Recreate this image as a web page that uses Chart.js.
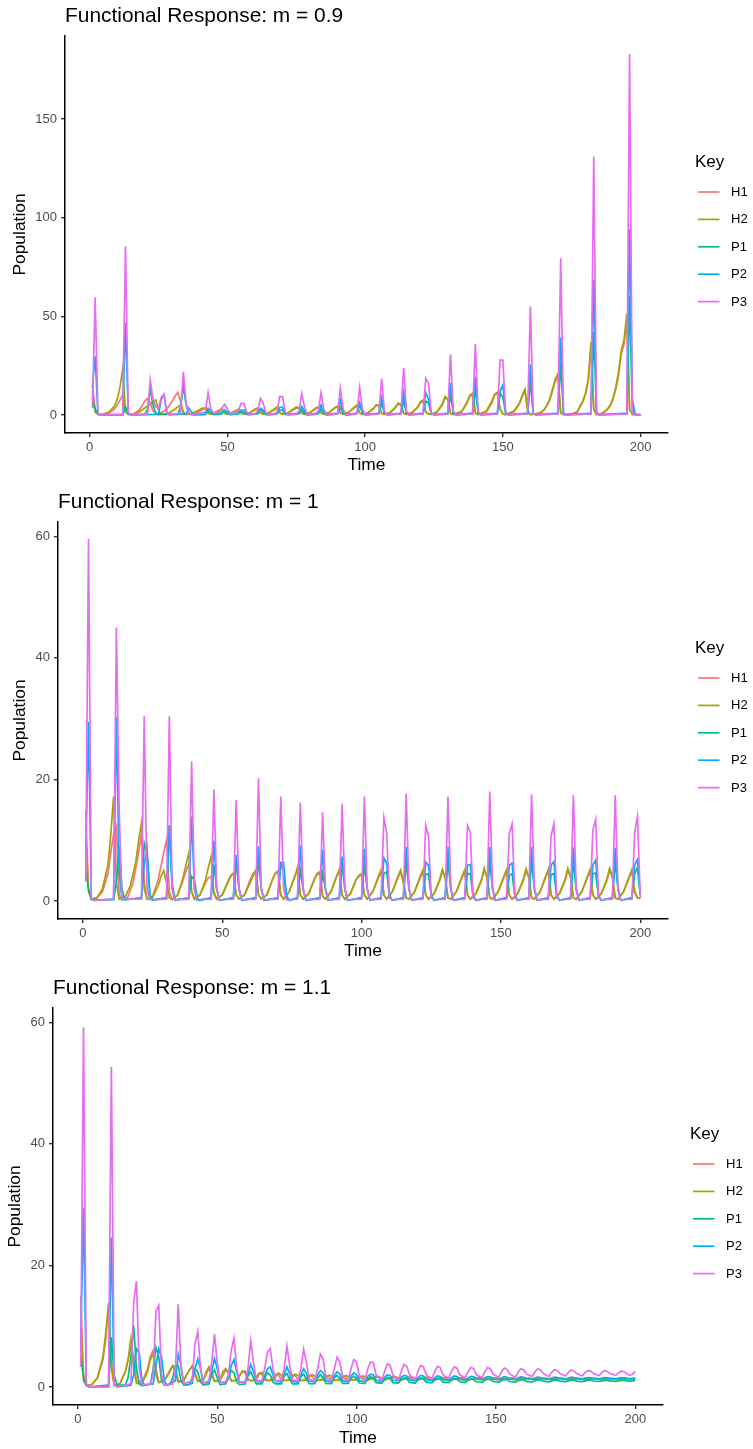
<!DOCTYPE html>
<html>
<head>
<meta charset="utf-8">
<script src="https://cdn.jsdelivr.net/npm/chart.js@4.4.1/dist/chart.umd.min.js"></script>
<style>
  body { margin: 0; background: #fff; }
  canvas { position: absolute; left: 0; }
</style>
</head>
<body>
<canvas id="m09" width="753" height="483" style="top:0px"></canvas>
<canvas id="m10" width="753" height="483" style="top:483px"></canvas>
<canvas id="m11" width="753" height="483" style="top:966px"></canvas>
<script>
const series = ['H1', 'H2', 'P1', 'P2', 'P3'];
const colours = ['#F8766D', '#A3A500', '#00BF7D', '#00B0F6', '#E76BF3'];

const timeTicks = [0, 50, 100, 150, 200];
const popTicks09 = [0, 50, 100, 150];
const popTicks = [0, 20, 40, 60];

// [time, population] pairs, m = 0.9
const h1_09 = [[1,15],[2,3],[3,0.3],[5,0.3],[7,1],[9,3],[10,5],[11,7.5],[12,10],[13,1.5],[14,0.3],[16,0.5],[18,2.5],[19,4.5],[20,7],[21,8.4],[22,6],[23,2],[24,0.8],[26,1],[28,3],[30,7],[31,9.5],[32,11.4],[33,7],[34,1.5],[35,0.3],[38,0.5],[40,2],[42,3.5],[43,2],[44,0.5],[46,1.5],[48,3],[49,1.5],[50,0.5],[52,1.5],[54,2.5],[55,1.5],[56,0.5],[58,1],[60,2.5],[61,3],[62,1.5],[63,0.4],[65,1],[67,2.5],[68,3.5],[69,1.5],[70,0.4],[72,1],[74,2.5],[75,3.5],[76,3.5],[77,1],[78,0.3],[80,1.2],[82,3],[83,3.8],[84,1],[85,0.3],[87,1.2],[89,3.5],[90,4.2],[91,1],[92,0.3],[94,1.2],[96,3.5],[97,4.5],[98,1],[99,0.3],[101,1],[103,3],[104,5],[105,4.5],[106,0.8],[107,0.3],[109,1],[111,3.5],[112,5.5],[113,5],[114,0.8],[115,0.3],[117,1],[119,3.5],[120,6],[121,7],[122,1.5],[123,0.5],[124,0.3],[126,1.2],[128,5],[129,8.5],[130,8],[131,0.8],[132,0.2],[135,1.5],[137,6],[138,9.5],[139,10],[140,1],[141,0.2],[144,1.5],[146,6],[147,10],[148,11],[149,3],[150,0.5],[151,0.2],[154,1.5],[156,5.5],[157,9],[158,12.5],[159,2],[160,0.2],[162,0.5],[164,1.4],[165,2.6],[166,4.6],[167,7.5],[168,12],[169,17],[170,19],[171,1],[172,0.2],[175,0.5],[177,1.5],[178,4],[179,6.5],[180,10.5],[181,17],[182,34],[183,3],[184,0.2],[186,0.7],[188,2.8],[189,4.6],[190,8],[191,13],[192,20],[193,31],[194,36],[195,48],[196,3],[197,0.3],[200,0.1]];
const h2_09 = [[1,10],[2,1.5],[3,0.3],[5,0.4],[7,1.5],[9,4.5],[10,8],[11,14],[12,23.6],[13,2],[14,0.3],[16,0.4],[18,1.5],[20,3.5],[22,5.5],[23,7],[24,7.6],[25,2.5],[26,0.5],[28,0.5],[30,2],[32,4],[33,5],[34,1],[35,0.3],[37,0.6],[39,2],[41,3.5],[42,3.5],[43,0.8],[44,0.3],[46,1.5],[47,2.5],[48,3],[49,0.8],[50,0.3],[52,1.2],[54,3],[55,1],[56,0.3],[58,1],[60,3],[61,3.5],[62,1],[63,0.3],[65,1],[67,3],[68,4],[69,1],[70,0.3],[72,1],[74,3],[75,4],[76,3.5],[77,0.8],[78,0.3],[80,1.2],[82,3.5],[83,4],[84,1],[85,0.3],[87,1.3],[89,3.8],[90,4.5],[91,1],[92,0.3],[94,1.3],[96,4],[97,5],[98,1],[99,0.3],[101,1],[103,3.5],[104,5],[105,5],[106,0.8],[107,0.3],[109,1.2],[111,4],[112,6],[113,5.5],[114,0.8],[115,0.3],[117,1.2],[119,4],[120,6.5],[121,7.6],[122,1.5],[123,0.4],[124,0.3],[126,1.5],[128,5.5],[129,9.3],[130,8],[131,0.8],[132,0.2],[135,1.8],[137,6.5],[138,10],[139,11],[140,1],[141,0.2],[144,2],[146,7],[147,10.5],[148,11.5],[149,3],[150,0.5],[151,0.2],[154,2],[156,6],[157,10],[158,13],[159,2],[160,0.2],[162,0.5],[164,1.5],[165,2.8],[166,5],[167,8],[168,13],[169,18],[170,21],[171,1],[172,0.2],[175,0.5],[177,1.6],[178,4.5],[179,7],[180,11],[181,18],[182,37],[183,3],[184,0.2],[186,0.8],[188,3],[189,5],[190,8.5],[191,14],[192,22],[193,33],[194,38],[195,51.4],[196,3],[197,0.3],[200,0.1]];
const p1_09 = [[1,8],[2,3],[3,0.3],[4,0],[12,0],[13,4.2],[14,0.5],[15,0],[20,0.3],[21,3],[22,13.5],[23,5],[24,1],[25,0.2],[32,0.5],[33,4],[34,14.8],[35,5],[36,1],[37,0.2],[42,0.3],[43,2],[44,1],[45,0.2],[48,0.5],[49,2],[50,1],[51,0.2],[54,0.5],[55,1.5],[56,1.5],[57,0.3],[61,0.5],[62,3],[63,1.5],[64,0.2],[68,0.5],[69,2.5],[70,2.5],[71,0.3],[76,0.5],[77,2.5],[78,1],[79,0.2],[83,0.5],[84,3],[85,1],[86,0.2],[90,0.5],[91,4],[92,1],[93,0.2],[97,0.5],[98,5],[99,1],[100,0.2],[105,0.5],[106,6],[107,1],[108,0.2],[113,0.5],[114,7],[115,1],[116,0.2],[121,0.5],[122,7],[123,6],[124,0.5],[125,0.2],[130,0.5],[131,10],[132,1],[133,0.2],[139,0.5],[140,13.5],[141,1],[142,0.2],[148,0.5],[149,11],[150,9],[151,1],[152,0.2],[159,0.5],[160,17],[161,1],[162,0.2],[170,0.5],[171,26],[172,1],[173,0.2],[182,0.5],[183,42],[184,1],[185,0.2],[195,0.5],[196,60],[197,3],[198,0.2],[200,0]];
const p2_09 = [[1,14],[2,29.8],[3,0.5],[4,0],[12,0.3],[13,46.6],[14,1],[15,0],[25,0.3],[26,8],[27,10.4],[28,1],[29,0],[35,0.5],[36,3.5],[37,1.5],[38,0],[42,0.3],[43,3.4],[44,2],[45,0.5],[48,1.5],[49,2.5],[50,1.5],[51,0.3],[54,1],[55,2.5],[56,2.5],[57,0.5],[58,0],[61,1],[62,3.4],[63,2.5],[64,0.5],[65,0],[68,1],[69,3.9],[70,3.9],[71,1],[72,0],[76,1],[77,4.2],[78,2],[79,0],[83,1],[84,5],[85,2],[86,0],[90,1],[91,7.6],[92,2],[93,0],[97,1],[98,6.2],[99,2],[100,0],[105,1],[106,8.9],[107,1],[108,0],[113,1],[114,11.3],[115,1],[116,0],[121,1],[122,11.3],[123,8],[124,1],[125,0],[130,1],[131,16.3],[132,1.5],[133,0],[139,1],[140,19.4],[141,1.5],[142,0],[148,1],[149,12],[150,15.2],[151,1.5],[152,0],[159,1],[160,25.6],[161,1],[162,0],[170,1],[171,39.2],[172,1],[173,0],[182,1],[183,68.5],[184,1],[185,0],[195,1],[196,94.3],[197,8],[198,0.5],[200,0]];
const p3_09 = [[1,3.5],[2,59.7],[3,0.5],[4,0],[12,0.3],[13,85.5],[14,1],[15,0],[21,0.5],[22,17.7],[23,8],[24,4],[25,3.5],[26,9],[27,10.5],[28,1],[29,0],[33,1],[34,21.9],[35,6],[36,1],[37,0],[42,1.5],[43,11.4],[44,3],[45,1],[47,1.5],[48,3.5],[49,5.4],[50,3],[51,0.8],[53,0.8],[54,2],[55,5.9],[56,5.9],[57,1.5],[58,0.3],[60,0.5],[61,2],[62,8.4],[63,6],[64,1],[65,0],[67,0.3],[68,1.5],[69,9.3],[70,9.3],[71,1.5],[72,0],[75,0.3],[76,2],[77,10.9],[78,4],[79,0.5],[80,0],[82,0.3],[83,2],[84,11.3],[85,3],[86,0.3],[87,0],[90,0.5],[91,13.5],[92,3],[93,0.3],[94,0],[97,0.5],[98,13.8],[99,3],[100,0.3],[101,0],[105,0.5],[106,18.5],[107,2],[108,0],[113,0.5],[114,23.9],[115,2],[116,0],[121,0.5],[122,18.5],[123,16],[124,1],[125,0],[130,0.5],[131,30.6],[132,2],[133,0],[139,0.5],[140,35.9],[141,2],[142,0],[148,0.5],[149,27.8],[150,27.8],[151,1.5],[152,0],[159,0.5],[160,55],[161,1],[162,0],[170,0.5],[171,79.5],[172,1],[173,0],[182,0.5],[183,131],[184,1],[185,0],[195,0.5],[196,183],[197,1.5],[198,0],[200,0]];

// m = 1
const h1_10 = [[1,14.8],[2,2],[3,0.3],[5,0.5],[7,1.5],[9,4.5],[10,8],[11,11],[12,12.3],[13,1],[14,0.3],[16,0.5],[18,3],[20,8],[21,11],[22,3],[23,0.3],[25,0.8],[27,3.5],[29,8],[30,10],[31,1.5],[32,0.3],[34,1],[36,3.5],[37,5],[38,6],[39,1.5],[40,0.3],[42,1],[44,3],[45,3.8],[46,4],[47,1.2],[48,0.3],[50,1],[52,3.2],[53,4.2],[54,4.5],[55,1],[56,0.3],[58,1],[60,3.5],[61,4.5],[62,5],[63,1],[64,0.3],[66,1],[68,3.5],[69,4.5],[70,4.8],[71,1],[72,0.3],[74,1.5],[76,4],[77,5],[78,1],[79,0.3],[81,1.2],[83,3.5],[84,4.3],[85,4.5],[86,0.8],[87,0.3],[89,1.5],[91,4],[92,4.8],[93,1],[94,0.3],[96,1.2],[98,3.5],[99,4],[100,4.3],[101,1],[102,0.3],[104,1.5],[106,3.8],[107,4.8],[108,1],[109,0.3],[111,1.5],[113,3.8],[114,4.8],[115,3],[116,0.5],[117,0.3],[119,1.5],[121,3.8],[122,4.8],[123,1],[124,0.3],[126,1.2],[128,3.3],[129,4.9],[130,3.8],[131,0.5],[132,0.3],[134,1.5],[136,3.8],[137,4.8],[138,1],[139,0.3],[141,1.2],[143,3.3],[144,5.1],[145,3.8],[146,0.5],[147,0.3],[149,1.5],[151,3.8],[152,4.8],[153,1],[154,0.3],[156,1.2],[158,3.3],[159,5],[160,3.8],[161,0.5],[162,0.3],[164,1.5],[166,3.8],[167,4.9],[168,1],[169,0.3],[171,1.2],[173,3.3],[174,5.1],[175,3.8],[176,0.5],[177,0.3],[179,1.5],[181,3.8],[182,4.9],[183,1],[184,0.3],[186,1.2],[188,3.3],[189,5.1],[190,3.8],[191,0.5],[192,0.3],[194,1.5],[196,3.8],[197,4.9],[198,1.5],[199,0.5],[200,0.4]];
const h2_10 = [[1,10],[2,1.5],[3,0.3],[5,0.5],[7,2],[9,6],[10,11],[11,17.2],[12,3],[13,0.3],[15,0.5],[17,2.5],[19,6.5],[20,10],[21,12.8],[22,2],[23,0.3],[25,0.6],[27,2.5],[28,4],[29,5],[30,3],[31,0.5],[32,0.2],[34,1],[36,4],[37,6],[38,7.9],[39,1.5],[40,0.3],[42,1],[44,3.5],[45,5.5],[46,7.3],[47,1.5],[48,0.3],[50,1],[52,3],[53,4],[54,4.6],[55,1],[56,0.3],[58,1],[60,3],[61,4],[62,5],[63,1],[64,0.3],[66,1],[68,3.5],[69,4.5],[70,5],[71,1],[72,0.3],[74,1.5],[76,4],[77,5.5],[78,1],[79,0.3],[81,1.2],[83,3.5],[84,4.5],[85,4.8],[86,0.8],[87,0.3],[89,1.5],[91,4],[92,5.2],[93,1],[94,0.3],[96,1.2],[98,3.5],[99,4.2],[100,4.5],[101,1],[102,0.3],[104,1.5],[106,4],[107,5.1],[108,1],[109,0.3],[111,1.5],[113,4],[114,5.1],[115,3],[116,0.5],[117,0.3],[119,1.5],[121,4],[122,5.1],[123,1],[124,0.3],[126,1.2],[128,3.5],[129,5.2],[130,4],[131,0.5],[132,0.3],[134,1.5],[136,4],[137,5.1],[138,1],[139,0.3],[141,1.2],[143,3.5],[144,5.4],[145,4],[146,0.5],[147,0.3],[149,1.5],[151,4],[152,5.1],[153,1],[154,0.3],[156,1.2],[158,3.5],[159,5.3],[160,4],[161,0.5],[162,0.3],[164,1.5],[166,4],[167,5.2],[168,1],[169,0.3],[171,1.2],[173,3.5],[174,5.4],[175,4],[176,0.5],[177,0.3],[179,1.5],[181,4],[182,5.2],[183,1],[184,0.3],[186,1.2],[188,3.5],[189,5.4],[190,4],[191,0.5],[192,0.3],[194,1.5],[196,4],[197,5.2],[198,1.5],[199,0.5],[200,0.4]];
const p1_10 = [[1,5],[2,2],[3,0.2],[11,0.2],[12,3],[13,9],[14,2],[15,0.2],[21,0.5],[22,9.5],[23,8],[24,1],[25,0.2],[30,0.5],[31,12.3],[32,3],[33,0.2],[38,0.5],[39,4],[40,3.5],[41,0.5],[42,0.1],[46,0.5],[47,6],[48,2],[49,0.1],[54,0.5],[55,6.5],[56,2],[57,0.1],[62,0.5],[63,7],[64,2],[65,0.1],[70,0.5],[71,6],[72,5],[73,0.5],[74,0.1],[77,0.5],[78,5],[79,2],[80,0.1],[85,0.5],[86,4.5],[87,2],[88,0.1],[92,0.5],[93,6],[94,2],[95,0.1],[100,0.5],[101,6],[102,2],[103,0.1],[107,0.5],[108,4.5],[109,4.8],[110,0.8],[111,0.1],[115,0.5],[116,6.5],[117,2],[118,0.1],[122,0.5],[123,4.4],[124,4.4],[125,0.8],[126,0.1],[130,0.5],[131,6.5],[132,2],[133,0.1],[137,0.5],[138,4.5],[139,4.5],[140,0.8],[141,0.1],[145,0.5],[146,6.5],[147,2],[148,0.1],[152,0.5],[153,4.2],[154,4.5],[155,0.8],[156,0.1],[160,0.5],[161,6.5],[162,2],[163,0.1],[167,0.5],[168,4.3],[169,4.5],[170,0.8],[171,0.1],[175,0.5],[176,6.5],[177,2],[178,0.1],[182,0.5],[183,4.5],[184,4.6],[185,0.8],[186,0.1],[190,0.5],[191,6.5],[192,2],[193,0.1],[197,0.5],[198,4.5],[199,5.5],[200,1]];
const p2_10 = [[1,7],[2,29.5],[3,0.5],[4,0.1],[11,0.3],[12,30.3],[13,5],[14,0.2],[21,0.5],[22,6],[23,8.7],[24,1],[25,0.1],[30,0.5],[31,12.5],[32,2],[33,0.1],[38,0.5],[39,13.9],[40,2],[41,0.1],[46,0.5],[47,9.9],[48,2],[49,0.1],[54,0.5],[55,7.6],[56,2],[57,0.1],[62,0.5],[63,9],[64,2],[65,0.1],[70,0.5],[71,6.3],[72,6.3],[73,1],[74,0.1],[77,0.5],[78,9.1],[79,2],[80,0.1],[85,0.5],[86,8.4],[87,2],[88,0.1],[92,0.5],[93,7.3],[94,2],[95,0.1],[100,0.5],[101,8.6],[102,2],[103,0.1],[107,0.5],[108,7.1],[109,6.2],[110,1],[111,0.1],[115,0.5],[116,8.9],[117,2],[118,0.1],[122,0.5],[123,6.4],[124,5.9],[125,1],[126,0.1],[130,0.5],[131,8.9],[132,2],[133,0.1],[137,0.5],[138,5.9],[139,6],[140,1],[141,0.1],[145,0.5],[146,8.9],[147,2],[148,0.1],[152,0.5],[153,5.9],[154,6.2],[155,1],[156,0.1],[160,0.5],[161,8.9],[162,2],[163,0.1],[167,0.5],[168,5.9],[169,6.5],[170,1],[171,0.1],[175,0.5],[176,8.8],[177,2],[178,0.1],[182,0.5],[183,5.9],[184,6.7],[185,1],[186,0.1],[190,0.5],[191,8.7],[192,2],[193,0.1],[197,0.5],[198,5.9],[199,6.8],[200,1.1]];
const p3_10 = [[1,3.2],[2,59.6],[3,0.5],[4,0.1],[11,0.3],[12,45],[13,15],[14,0.3],[21,0.3],[22,30.4],[23,2],[24,0.2],[30,0.3],[31,30.4],[32,2],[33,0.2],[38,0.3],[39,23],[40,2],[41,0.2],[46,0.3],[47,18.4],[48,2],[49,0.2],[54,0.3],[55,16.6],[56,2],[57,0.2],[62,0.3],[63,20.2],[64,2],[65,0.2],[70,0.3],[71,17.2],[72,2],[73,0.2],[77,0.3],[78,16.2],[79,2],[80,0.2],[85,0.3],[86,14.6],[87,2],[88,0.2],[92,0.3],[93,16],[94,2],[95,0.2],[100,0.3],[101,17.2],[102,2],[103,0.2],[107,0.3],[108,13.7],[109,11.2],[110,0.5],[111,0.2],[115,0.3],[116,17.7],[117,2],[118,0.2],[122,0.3],[123,12.4],[124,10.7],[125,0.5],[126,0.2],[130,0.3],[131,17.2],[132,2],[133,0.2],[137,0.3],[138,12.4],[139,11.3],[140,0.5],[141,0.2],[145,0.3],[146,18],[147,2],[148,0.2],[152,0.3],[153,11.1],[154,12.7],[155,0.5],[156,0.2],[160,0.3],[161,17.5],[162,2],[163,0.2],[167,0.3],[168,10.7],[169,12.7],[170,0.5],[171,0.2],[175,0.3],[176,17.4],[177,2],[178,0.2],[182,0.3],[183,11.7],[184,13.4],[185,0.5],[186,0.2],[190,0.3],[191,17.4],[192,2],[193,0.2],[197,0.3],[198,11.4],[199,13.9],[200,0.5]];

// m = 1.1
const h1_11 = [[1,15],[2,2],[3,0.3],[5,0.4],[7,1.5],[9,4.5],[10,8],[11,13],[12,4],[13,0.3],[15,0.5],[17,2.5],[18,4.5],[19,7],[20,5],[21,1],[23,0.8],[25,3],[26,5],[27,6],[28,3],[29,0.8],[31,1],[33,2.8],[34,3.5],[35,3],[36,1],[38,1.1],[40,2.8],[41,3.3],[42,2.5],[43,1],[45,1.2],[47,3],[48,2.5],[49,1],[51,1.1],[53,2.7],[54,2.4],[55,1],[57,1.1],[59,2.5],[60,2.3],[61,1.1],[63,1.1],[65,2.3],[66,2.1],[67,1.1],[69,1.1],[71,2.1],[72,2],[73,1.1],[75,1.1],[77,2],[78,1.9],[79,1.1],[81,1.1],[83,1.95],[84,1.8],[85,1.1],[87,1.12],[89,1.9],[90,1.75],[91,1.1],[93,1.13],[95,1.85],[96,1.7],[97,1.12],[99,1.14],[101,1.8],[102,1.65],[103,1.13],[107,1.72],[109,1.14],[113,1.68],[115,1.15],[119,1.64],[121,1.16],[125,1.6],[127,1.17],[131,1.56],[133,1.18],[137,1.53],[139,1.19],[143,1.5],[145,1.2],[149,1.48],[151,1.21],[155,1.46],[157,1.22],[161,1.44],[163,1.23],[167,1.42],[169,1.24],[173,1.41],[175,1.25],[179,1.4],[181,1.25],[185,1.39],[187,1.26],[191,1.38],[193,1.27],[197,1.37],[200,1.3]];
const h2_11 = [[1,10],[2,1],[3,0.3],[5,0.4],[7,1.5],[9,5],[10,9],[11,13.9],[12,3],[13,0.3],[15,0.5],[17,2.5],[18,4.5],[19,7.9],[20,3],[21,0.6],[23,0.6],[25,2.5],[26,4.5],[27,5.5],[28,2],[29,0.7],[31,1],[33,2.5],[34,3.5],[35,2.5],[36,0.8],[38,1.1],[40,2.8],[41,3.5],[42,2],[43,0.9],[45,1.1],[46,2.5],[47,3.3],[48,2],[49,0.9],[51,1.1],[52,2.5],[53,3],[54,2.3],[55,1],[57,1.1],[59,2.6],[60,2.6],[61,1.3],[62,1],[64,1.1],[65,2.1],[66,2.4],[67,1.6],[68,1],[70,1.1],[72,2.3],[73,1.9],[74,1.05],[76,1.1],[78,2.1],[79,1.9],[80,1.05],[82,1.1],[84,2.05],[85,1.8],[86,1.08],[88,1.1],[90,1.95],[91,1.8],[92,1.1],[94,1.12],[96,1.9],[97,1.75],[98,1.12],[100,1.15],[102,1.8],[103,1.7],[104,1.12],[108,1.75],[110,1.13],[114,1.7],[116,1.14],[120,1.65],[122,1.15],[126,1.62],[128,1.16],[132,1.58],[134,1.17],[138,1.55],[140,1.18],[144,1.52],[146,1.19],[150,1.5],[152,1.2],[156,1.48],[158,1.21],[162,1.46],[164,1.22],[168,1.44],[170,1.23],[174,1.43],[176,1.24],[180,1.42],[182,1.25],[186,1.41],[188,1.25],[192,1.4],[194,1.26],[198,1.39],[200,1.32]];
const p1_11 = [[1,5],[2,1.5],[3,0.2],[4,0],[11,0.3],[12,8.2],[13,2],[14,0.3],[17,0.3],[18,1.5],[19,5],[20,10.1],[21,3],[22,0.5],[23,0.2],[26,0.5],[27,3],[28,6.5],[29,5],[30,1],[31,0.3],[33,0.4],[34,1.5],[35,3.5],[36,3.5],[37,1],[38,0.3],[40,0.4],[41,1.5],[42,3],[43,2.5],[44,0.8],[45,0.3],[47,0.5],[48,2],[49,2.8],[50,1.5],[51,0.4],[53,0.5],[54,1.5],[55,2.7],[56,2.3],[57,0.8],[58,0.4],[60,0.5],[61,1.8],[62,2.5],[63,1.5],[64,0.5],[66,0.5],[67,1.5],[68,2.3],[69,2],[70,0.8],[71,0.5],[73,0.5],[74,1.8],[75,2.2],[76,1.3],[77,0.5],[79,0.5],[80,1.7],[81,2.1],[82,1.3],[83,0.55],[85,0.55],[86,1.5],[87,2],[88,1.5],[89,0.6],[91,0.55],[92,1.5],[93,1.9],[94,1.4],[95,0.6],[97,0.6],[98,1.4],[99,1.8],[100,1.4],[101,0.65],[103,0.6],[104,1.3],[105,1.7],[106,1.4],[107,0.7],[109,0.6],[110,1.2],[111,1.6],[112,1.4],[113,0.7],[115,0.62],[116,1.2],[117,1.5],[118,1.35],[119,0.75],[121,0.65],[122,1.2],[123,1.45],[124,1.3],[125,0.8],[127,0.68],[128,1.15],[129,1.4],[130,1.3],[131,0.8],[133,0.7],[134,1.1],[135,1.35],[136,1.25],[137,0.85],[139,0.72],[140,1.1],[141,1.3],[142,1.2],[143,0.85],[145,0.75],[146,1.1],[147,1.3],[148,1.2],[149,0.9],[151,0.78],[152,1.05],[153,1.25],[154,1.2],[155,0.9],[157,0.8],[158,1.05],[159,1.2],[160,1.15],[161,0.92],[163,0.82],[164,1.05],[165,1.2],[166,1.15],[167,0.95],[169,0.85],[170,1],[171,1.15],[172,1.1],[173,0.95],[175,0.87],[176,1],[177,1.15],[178,1.1],[179,0.97],[181,0.88],[182,1],[183,1.12],[184,1.1],[185,0.98],[187,0.9],[188,1],[189,1.1],[190,1.08],[191,1],[193,0.92],[194,1],[195,1.1],[196,1.07],[197,1],[198,0.95],[200,1.05]];
const p2_11 = [[1,7],[2,29.4],[3,0.5],[4,0],[11,0],[12,24.6],[13,0.3],[14,0],[19,0.3],[20,2],[21,6.3],[22,5.5],[23,1],[24,0.3],[27,0.5],[28,3.5],[29,6.3],[30,5],[31,1],[32,0.3],[35,1],[36,5.4],[37,3.5],[38,0.7],[39,0.3],[41,0.6],[42,3],[43,4.6],[44,3],[45,0.7],[47,0.7],[48,2.5],[49,4.7],[50,3],[51,0.8],[53,0.7],[54,1.5],[55,3.5],[56,4.5],[57,2.5],[58,0.8],[60,0.8],[61,2],[62,3.7],[63,2.5],[64,0.9],[66,0.8],[67,1.8],[68,3],[69,3.3],[70,2],[71,0.9],[73,0.8],[74,2],[75,3.3],[76,2.2],[77,0.9],[79,0.8],[80,2],[81,3],[82,2.2],[83,1],[85,0.8],[86,2],[87,2.7],[88,2.3],[89,1],[91,0.8],[92,1.8],[93,2.5],[94,2.1],[95,1],[97,0.9],[98,1.8],[99,2.3],[100,2],[101,1],[103,0.9],[104,1.7],[105,2.1],[106,2],[107,1.1],[109,0.9],[110,1.6],[111,2],[112,1.9],[113,1.1],[115,1],[116,1.6],[117,1.9],[118,1.8],[119,1.2],[121,1],[122,1.5],[123,1.9],[124,1.8],[125,1.2],[127,1.05],[128,1.5],[129,1.8],[130,1.7],[131,1.2],[133,1.1],[134,1.5],[135,1.8],[136,1.7],[137,1.25],[139,1.1],[140,1.5],[141,1.75],[142,1.7],[143,1.3],[145,1.15],[146,1.5],[147,1.7],[148,1.65],[149,1.3],[151,1.2],[152,1.5],[153,1.7],[154,1.6],[155,1.3],[157,1.2],[158,1.5],[159,1.65],[160,1.6],[161,1.35],[163,1.25],[164,1.45],[165,1.6],[166,1.55],[167,1.35],[169,1.25],[170,1.45],[171,1.6],[172,1.55],[173,1.4],[175,1.3],[176,1.45],[177,1.6],[178,1.55],[179,1.4],[181,1.3],[182,1.45],[183,1.55],[184,1.5],[185,1.4],[187,1.3],[188,1.45],[189,1.55],[190,1.5],[191,1.4],[193,1.35],[194,1.45],[195,1.55],[196,1.5],[197,1.4],[198,1.35],[200,1.5]];
const p3_11 = [[1,3.3],[2,59.2],[3,0.5],[4,0],[11,0],[12,52.7],[13,0.3],[14,0],[19,0.5],[20,13.9],[21,17.4],[22,3],[23,0.3],[26,0.5],[27,2],[28,12.5],[29,13.4],[30,2],[31,0.3],[34,0.5],[35,3],[36,13.6],[37,3],[38,0.5],[41,1],[42,7.1],[43,9.1],[44,3],[45,0.6],[47,1],[48,4],[49,8.7],[50,4],[51,0.8],[53,0.8],[54,2],[55,6],[56,8],[57,3],[58,0.8],[60,0.8],[61,3],[62,7.6],[63,4],[64,1],[66,1],[67,3],[68,5.7],[69,6.3],[70,3],[71,1],[73,1],[74,3],[75,6.7],[76,3.5],[77,1.1],[79,1],[80,3],[81,6.2],[82,4],[83,1.2],[85,1],[86,3],[87,5.4],[88,4.6],[89,1.5],[91,1],[92,3],[93,4.9],[94,4.1],[95,1.5],[97,1],[98,3],[99,4.5],[100,4.1],[101,1.7],[103,1],[104,3],[105,4.1],[106,4],[107,2],[109,1],[110,2.5],[111,3.8],[112,3.6],[113,2],[115,1.1],[116,2.5],[117,3.7],[118,3.4],[119,2],[121,1.2],[122,2.5],[123,3.55],[124,3.3],[125,2],[127,1.3],[128,2.5],[129,3.4],[130,3.2],[131,2],[133,1.4],[134,2.5],[135,3.3],[136,3.1],[137,2],[139,1.5],[140,2.5],[141,3.2],[142,3],[143,2],[145,1.5],[146,2.5],[147,3.2],[148,3],[149,2.1],[151,1.6],[152,2.5],[153,3.1],[154,2.9],[155,2.1],[157,1.6],[158,2.5],[159,3],[160,2.8],[161,2.1],[163,1.7],[164,2.5],[165,3],[166,2.8],[167,2.2],[169,1.7],[170,2.4],[171,2.85],[172,2.7],[173,2.2],[175,1.8],[176,2.4],[177,2.8],[178,2.6],[179,2.2],[181,1.8],[182,2.4],[183,2.7],[184,2.6],[185,2.2],[187,1.85],[188,2.4],[189,2.7],[190,2.5],[191,2.2],[193,1.9],[194,2.3],[195,2.6],[196,2.5],[197,2.2],[198,1.9],[199,2.1],[200,2.5]];

const FONT = '"Liberation Sans", Arial, Helvetica, sans-serif';
Chart.defaults.font.family = FONT;

// panel geometry inside each 753x483 canvas
const panels = [
  { id: 'm09', title: 'Functional Response: m = 0.9', lists: [h1_09, h2_09, p1_09, p2_09, p3_09],
    yMin: -9.15, yMax: 192.15, yTicks: popTicks09,
    left: 65, right: 668, top: 36, bottom: 433, titleY: 16.5, timePad: 7.6, popPad: 9.6 },
  { id: 'm10', title: 'Functional Response: m = 1', lists: [h1_10, h2_10, p1_10, p2_10, p3_10],
    yMin: -2.97, yMax: 62.37, yTicks: popTicks,
    left: 58, right: 668, top: 39, bottom: 436, titleY: 19, timePad: 4.6, popPad: 9.6 },
  { id: 'm11', title: 'Functional Response: m = 1.1', lists: [h1_11, h2_11, p1_11, p2_11, p3_11],
    yMin: -2.97, yMax: 62.37, yTicks: popTicks,
    left: 53, right: 663, top: 42, bottom: 439, titleY: 22.5, timePad: 0.3, popPad: 4.6 }
];

// title sits flush with the left edge of the panel
const panelTitle = {
  id: 'panelTitle',
  afterDraw(chart, args, opts) {
    const { ctx, chartArea } = chart;
    ctx.save();
    ctx.font = '20.9px ' + FONT;
    ctx.fillStyle = '#000';
    ctx.textBaseline = 'middle';
    ctx.fillText(opts.text, chartArea.left, opts.y);
    ctx.restore();
  }
};

// "Key" legend to the right of the panel
const keyLegend = {
  id: 'keyLegend',
  afterDraw(chart) {
    const { ctx, chartArea } = chart;
    const mid = (chartArea.top + chartArea.bottom) / 2;
    const x0 = chartArea.right + 27;
    ctx.save();
    ctx.textBaseline = 'middle';
    ctx.fillStyle = '#000';
    ctx.font = '17px ' + FONT;
    ctx.fillText('Key', x0, mid - 72.5);
    ctx.font = '13px ' + FONT;
    series.forEach((name, i) => {
      const y = mid - 42.5 + i * 27.4;
      ctx.strokeStyle = colours[i];
      ctx.lineWidth = 1.7;
      ctx.beginPath();
      ctx.moveTo(x0 + 3, y);
      ctx.lineTo(x0 + 24.5, y);
      ctx.stroke();
      ctx.fillStyle = '#000';
      ctx.fillText(name, x0 + 36, y + 0.5);
    });
    ctx.restore();
  }
};

function toPoints(pairs) {
  return pairs.map(([x, y]) => ({ x, y }));
}

function axisLines() {
  return {
    grid: { display: true, drawOnChartArea: false, drawTicks: true, tickLength: 4, color: '#333333', lineWidth: 1.4 },
    border: { display: true, color: '#000000', width: 1.5 }
  };
}

panels.forEach(p => {
  const datasets = p.lists.map((pairs, i) => ({
    label: series[i],
    data: toPoints(pairs),
    borderColor: colours[i],
    backgroundColor: colours[i],
    borderWidth: 1.7,
    pointRadius: 0,
    tension: 0,
    order: series.length - i
  }));

  new Chart(document.getElementById(p.id), {
    type: 'line',
    data: { datasets },
    plugins: [panelTitle, keyLegend],
    options: {
      responsive: false,
      animation: false,
      devicePixelRatio: 1,
      layout: { padding: { top: p.top, right: 753 - p.right, left: 0, bottom: 0 } },
      plugins: {
        legend: { display: false },
        tooltip: { enabled: false },
        panelTitle: { text: p.title, y: p.titleY }
      },
      scales: {
        x: {
          type: 'linear',
          min: -8.95,
          max: 209.95,
          ...axisLines(),
          afterBuildTicks: s => { s.ticks = timeTicks.map(v => ({ value: v })); },
          afterFit: s => { s.height = 483 - p.bottom; s.paddingLeft = 0; s.paddingRight = 0; },
          ticks: { color: '#4D4D4D', font: { size: 13 }, padding: 2.5, maxRotation: 0, autoSkip: false },
          title: { display: true, text: 'Time', color: '#000', font: { size: 17.4 }, padding: { top: 0, bottom: p.timePad } }
        },
        y: {
          type: 'linear',
          min: p.yMin,
          max: p.yMax,
          ...axisLines(),
          afterBuildTicks: s => { s.ticks = p.yTicks.map(v => ({ value: v })); },
          afterFit: s => { s.width = p.left; s.paddingTop = 0; s.paddingBottom = 0; },
          ticks: { color: '#4D4D4D', font: { size: 13 }, padding: 4 },
          title: { display: true, text: 'Population', color: '#000', font: { size: 17.4 }, padding: { top: p.popPad, bottom: 0 } }
        }
      }
    }
  });
});
</script>
</body>
</html>
